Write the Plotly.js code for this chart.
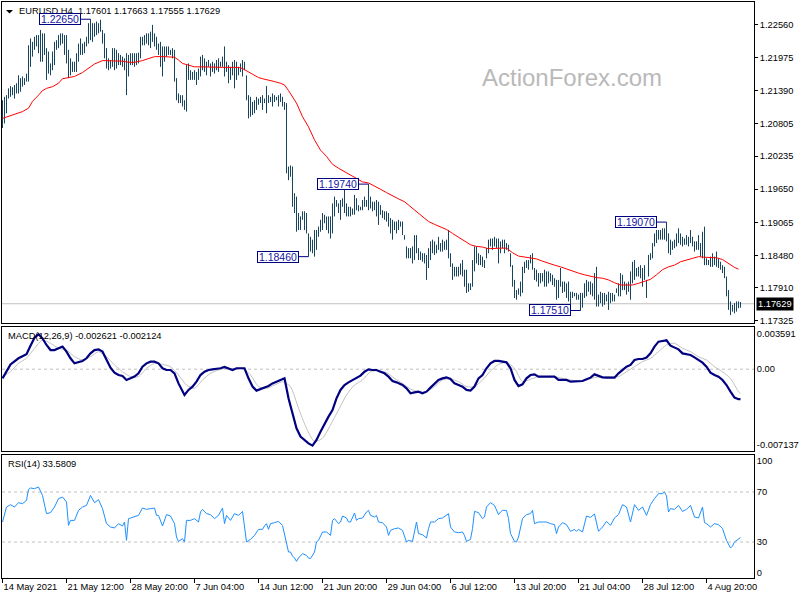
<!DOCTYPE html>
<html><head><meta charset="utf-8">
<script src="https://cdn.plot.ly/plotly-3.0.1.min.js"></script>
<style>html,body{margin:0;padding:0;background:#fff}#c{width:800px;height:600px}</style>
</head><body><div id="c"></div>
<script>
// ---- price bars (H4, bar index 0..369), high / low ----
const hi=[1.2122,1.2128,1.2131,1.2143,1.2147,1.2145,1.2149,1.2152,1.2166,1.2161,
1.2164,1.2161,1.2169,1.2219,1.2231,1.2225,1.2234,1.2237,1.2237,1.2246,
1.2240,1.2240,1.2214,1.2208,1.2187,1.2208,1.2225,1.2228,1.2237,1.2240,
1.2240,1.2237,1.2237,1.2211,1.2196,1.2190,1.2190,1.2205,1.2222,1.2231,
1.2222,1.2225,1.2234,1.2258,1.2265,1.2258,1.2258,1.2261,1.2258,1.2264,
1.2246,1.2240,1.2214,1.2196,1.2193,1.2214,1.2214,1.2211,1.2205,1.2202,
1.2199,1.2196,1.2205,1.2202,1.2205,1.2205,1.2205,1.2205,1.2206,1.2234,
1.2234,1.2237,1.2240,1.2240,1.2243,1.2255,1.2240,1.2234,1.2222,1.2225,
1.2217,1.2217,1.2217,1.2217,1.2211,1.2214,1.2211,1.2161,1.2134,1.2131,
1.2131,1.2122,1.2184,1.2187,1.2175,1.2172,1.2175,1.2172,1.2178,1.2199,
1.2202,1.2196,1.2190,1.2193,1.2187,1.2190,1.2187,1.2193,1.2196,1.2190,
1.2199,1.2217,1.2190,1.2184,1.2181,1.2190,1.2193,1.2190,1.2181,1.2187,
1.2193,1.2190,1.2166,1.2131,1.2128,1.2119,1.2122,1.2128,1.2125,1.2128,
1.2131,1.2125,1.2147,1.2131,1.2128,1.2134,1.2131,1.2128,1.2131,1.2134,
1.2128,1.2119,1.2117,1.2005,1.2007,1.2005,1.1958,1.1952,1.1923,1.1917,
1.1926,1.1926,1.1923,1.1887,1.1881,1.1876,1.1893,1.1893,1.1899,1.1911,
1.1923,1.1920,1.1917,1.1917,1.1917,1.1940,1.1952,1.1946,1.1940,1.1946,
1.1949,1.1970,1.1940,1.1934,1.1934,1.1931,1.1955,1.1949,1.1937,1.1934,
1.1946,1.1952,1.1946,1.1974,1.1952,1.1943,1.1943,1.1946,1.1943,1.1937,
1.1928,1.1926,1.1926,1.1923,1.1914,1.1911,1.1908,1.1908,1.1911,1.1908,
1.1908,1.1884,1.1864,1.1861,1.1861,1.1864,1.1884,1.1884,1.1861,1.1855,
1.1852,1.1852,1.1849,1.1861,1.1873,1.1876,1.1873,1.1867,1.1881,1.1870,
1.1876,1.1873,1.1876,1.1893,1.1852,1.1834,1.1828,1.1828,1.1828,1.1834,
1.1840,1.1823,1.1823,1.1799,1.1799,1.1840,1.1864,1.1864,1.1852,1.1849,
1.1846,1.1840,1.1861,1.1876,1.1878,1.1878,1.1881,1.1878,1.1878,1.1873,
1.1876,1.1876,1.1870,1.1867,1.1852,1.1831,1.1805,1.1787,1.1790,1.1802,
1.1828,1.1837,1.1840,1.1840,1.1849,1.1852,1.1826,1.1823,1.1817,1.1817,
1.1817,1.1823,1.1820,1.1820,1.1817,1.1814,1.1808,1.1805,1.1805,1.1826,
1.1802,1.1802,1.1799,1.1802,1.1784,1.1784,1.1782,1.1782,1.1779,1.1782,
1.1782,1.1799,1.1805,1.1802,1.1802,1.1799,1.1817,1.1828,1.1779,1.1784,
1.1782,1.1782,1.1779,1.1784,1.1782,1.1782,1.1779,1.1790,1.1799,1.1817,
1.1814,1.1802,1.1799,1.1802,1.1820,1.1837,1.1840,1.1826,1.1828,1.1831,
1.1826,1.1831,1.1805,1.1849,1.1852,1.1870,1.1887,1.1893,1.1893,1.1893,
1.1896,1.1896,1.1907,1.1887,1.1876,1.1873,1.1876,1.1887,1.1896,1.1887,
1.1881,1.1878,1.1884,1.1881,1.1893,1.1881,1.1873,1.1873,1.1884,1.1870,
1.1890,1.1899,1.1843,1.1840,1.1846,1.1852,1.1846,1.1855,1.1843,1.1837,
1.1831,1.1828,1.1811,1.1787,1.1767,1.1761,1.1764,1.1767,1.1767,1.1766];
const lo=[1.2073,1.2081,1.2099,1.2125,1.2128,1.2131,1.2125,1.2134,1.2134,1.2137,
1.2146,1.2149,1.2155,1.2155,1.2181,1.2199,1.2211,1.2217,1.2205,1.2190,
1.2190,1.2202,1.2158,1.2169,1.2166,1.2175,1.2184,1.2211,1.2214,1.2219,
1.2222,1.2202,1.2187,1.2161,1.2166,1.2172,1.2172,1.2172,1.2190,1.2202,
1.2202,1.2205,1.2217,1.2222,1.2228,1.2225,1.2234,1.2237,1.2240,1.2243,
1.2222,1.2196,1.2178,1.2175,1.2178,1.2181,1.2175,1.2178,1.2184,1.2184,
1.2181,1.2175,1.2131,1.2164,1.2184,1.2184,1.2181,1.2184,1.2187,1.2196,
1.2219,1.2219,1.2222,1.2219,1.2214,1.2225,1.2217,1.2211,1.2202,1.2181,
1.2164,1.2190,1.2199,1.2202,1.2202,1.2196,1.2155,1.2122,1.2117,1.2117,
1.2111,1.2105,1.2102,1.2158,1.2158,1.2158,1.2158,1.2149,1.2158,1.2164,
1.2175,1.2172,1.2166,1.2181,1.2164,1.2172,1.2169,1.2175,1.2172,1.2181,
1.2181,1.2164,1.2172,1.2152,1.2158,1.2166,1.2143,1.2158,1.2166,1.2172,
1.2164,1.2175,1.2122,1.2090,1.2093,1.2096,1.2099,1.2105,1.2114,1.2117,
1.2105,1.2117,1.2099,1.2117,1.2119,1.2111,1.2119,1.2122,1.2111,1.2119,
1.2111,1.2105,1.1993,1.1981,1.1987,1.1934,1.1923,1.1890,1.1893,1.1893,
1.1911,1.1893,1.1887,1.1846,1.1855,1.1852,1.1846,1.1858,1.1881,1.1890,
1.1893,1.1905,1.1893,1.1887,1.1878,1.1887,1.1917,1.1934,1.1923,1.1911,
1.1934,1.1923,1.1917,1.1917,1.1917,1.1920,1.1920,1.1928,1.1926,1.1928,
1.1928,1.1934,1.1934,1.1928,1.1931,1.1926,1.1928,1.1917,1.1902,1.1920,
1.1914,1.1911,1.1908,1.1899,1.1887,1.1876,1.1893,1.1887,1.1893,1.1899,
1.1884,1.1876,1.1843,1.1843,1.1843,1.1834,1.1840,1.1852,1.1840,1.1840,
1.1837,1.1834,1.1805,1.1826,1.1840,1.1852,1.1849,1.1852,1.1858,1.1855,
1.1855,1.1858,1.1858,1.1843,1.1828,1.1805,1.1811,1.1811,1.1811,1.1814,
1.1811,1.1793,1.1782,1.1784,1.1787,1.1793,1.1820,1.1834,1.1831,1.1831,
1.1828,1.1826,1.1843,1.1852,1.1864,1.1858,1.1864,1.1861,1.1834,1.1852,
1.1861,1.1852,1.1858,1.1855,1.1828,1.1793,1.1773,1.1770,1.1779,1.1776,
1.1782,1.1817,1.1826,1.1823,1.1834,1.1823,1.1805,1.1802,1.1793,1.1799,
1.1802,1.1793,1.1793,1.1799,1.1802,1.1796,1.1793,1.1770,1.1773,1.1793,
1.1782,1.1784,1.1773,1.1767,1.1758,1.1773,1.1776,1.1770,1.1770,1.1751,
1.1756,1.1773,1.1776,1.1784,1.1779,1.1776,1.1770,1.1758,1.1758,1.1764,
1.1758,1.1761,1.1767,1.1752,1.1764,1.1767,1.1767,1.1782,1.1776,1.1776,
1.1787,1.1787,1.1779,1.1784,1.1770,1.1799,1.1805,1.1811,1.1811,1.1808,
1.1793,1.1805,1.1773,1.1811,1.1840,1.1843,1.1864,1.1870,1.1876,1.1876,
1.1876,1.1876,1.1873,1.1852,1.1849,1.1858,1.1861,1.1864,1.1870,1.1867,
1.1864,1.1867,1.1867,1.1864,1.1870,1.1864,1.1855,1.1858,1.1858,1.1846,
1.1843,1.1831,1.1831,1.1831,1.1828,1.1828,1.1831,1.1828,1.1826,1.1823,
1.1817,1.1808,1.1776,1.1752,1.1743,1.1749,1.1746,1.1749,1.1755,1.1756];

// ---- moving average (red) ----
const maBar=[0,5,10,13,15,18,20,22,25,28,30,33,36,40,43,46,50,53,56,60,63,66,70,73,76,80,83,86,88,90,93,96,
100,105,110,115,118,120,122,125,128,130,133,136,139,141,143,145,147,150,153,156,159,162,165,168,171,174,177,180,183,186,189,192,195,198,
201,204,207,210,213,216,219,222,225,228,231,234,237,240,243,246,249,252,255,258,261,264,267,270,273,276,279,282,285,288,291,294,297,
300,303,306,309,312,315,318,321,324,327,330,333,336,339,342,345,348,351,354,357,360,363,366,368];
const maVal=[1.2090,1.2096,1.2102,1.2108,1.2120,1.2131,1.2139,1.2143,1.2146,1.2152,1.2160,1.2162,1.2164,1.2171,1.2178,1.2186,1.2192,1.2192,1.2191,1.2191,1.2189,1.2189,1.2192,1.2196,1.2199,1.2199,1.2199,1.2198,1.2193,1.2187,1.2184,1.2181,
1.2181,1.2180,1.2180,1.2180,1.2180,1.2178,1.2174,1.2167,1.2162,1.2160,1.2158,1.2155,1.2152,1.2149,1.2139,1.2128,1.2117,1.2093,1.2075,1.2052,1.2034,1.2023,1.2009,1.2002,1.1996,1.1990,1.1983,1.1978,1.1976,1.1971,1.1965,1.1959,1.1953,1.1948,
1.1943,1.1934,1.1926,1.1917,1.1908,1.1903,1.1899,1.1894,1.1887,1.1880,1.1873,1.1867,1.1864,1.1863,1.1860,1.1861,1.1861,1.1861,1.1853,1.1847,1.1845,1.1843,1.1842,1.1838,1.1834,1.1831,1.1828,1.1824,1.1821,1.1817,1.1814,1.1811,1.1809,
1.1808,1.1805,1.1800,1.1796,1.1796,1.1796,1.1799,1.1802,1.1806,1.1814,1.1823,1.1828,1.1831,1.1837,1.1840,1.1844,1.1846,1.1845,1.1844,1.1844,1.1841,1.1834,1.1827,1.1824];

// ---- MACD main (navy) ----
const macdBar=[0,4,8,12,14,16,18,20,22,24,26,28,30,32,34,36,38,40,42,44,46,48,50,52,54,56,58,60,62,64,66,68,70,72,74,76,78,80,82,84,86,88,90,91,93,95,97,99,
101,103,105,107,109,111,113,115,117,119,121,123,125,127,129,131,133,135,137,139,141,143,145,147,149,151,153,155,157,159,161,163,165,167,169,171,173,175,177,179,181,183,185,187,189,191,193,195,197,
200,202,204,206,208,210,212,214,216,218,220,222,224,226,228,230,232,234,236,238,240,242,244,246,248,250,252,254,256,258,260,262,264,266,268,270,272,274,276,278,280,282,284,286,288,290,292,294,296,298,
300,302,304,306,308,310,312,314,316,318,320,322,324,326,328,330,332,334,336,338,340,342,344,346,348,350,352,354,356,358,360,362,364,366,368,369];
const macdVal=[-0.00080,0.00042,0.00095,0.00130,0.00205,0.00275,0.00304,0.00269,0.00211,0.00167,0.00167,0.00182,0.00197,0.00153,0.00095,0.00051,0.00060,0.00072,0.00095,0.00138,0.00167,0.00173,0.00153,0.00080,0.00013,-0.00030,-0.00051,-0.00059,-0.00094,-0.00080,-0.00065,-0.00036,0.00022,0.00051,0.00066,0.00066,0.00051,0.00008,-0.00007,-0.00007,-0.00036,-0.00124,-0.00196,-0.00225,-0.00181,-0.00152,-0.00109,-0.00051,
-0.00022,-0.00007,-0.00001,0.00002,0.00008,0.00019,0.00008,-0.00007,0.00008,0.00008,0.00008,-0.00080,-0.00152,-0.00187,-0.00173,-0.00158,-0.00147,-0.00124,-0.00109,-0.00094,-0.00080,-0.00254,-0.00385,-0.00516,-0.00588,-0.00617,-0.00647,-0.00667,-0.00617,-0.00545,-0.00472,-0.00414,-0.00356,-0.00254,-0.00181,-0.00138,-0.00115,-0.00094,-0.00074,-0.00056,-0.00022,-0.00001,-0.00007,-0.00007,-0.00022,-0.00036,-0.00065,-0.00103,-0.00115,
-0.00138,-0.00167,-0.00210,-0.00202,-0.00196,-0.00210,-0.00196,-0.00161,-0.00124,-0.00094,-0.00080,-0.00071,-0.00085,-0.00124,-0.00138,-0.00152,-0.00181,-0.00187,-0.00152,-0.00080,-0.00051,0.00008,0.00051,0.00072,0.00072,0.00066,0.00060,0.00008,-0.00094,-0.00147,-0.00132,-0.00080,-0.00051,-0.00045,-0.00065,-0.00065,-0.00065,-0.00065,-0.00065,-0.00094,-0.00094,-0.00094,-0.00109,-0.00109,-0.00109,-0.00103,-0.00088,-0.00074,-0.00045,-0.00056,
-0.00071,-0.00074,-0.00074,-0.00074,-0.00036,-0.00007,0.00022,0.00037,0.00080,0.00089,0.00089,0.00101,0.00138,0.00197,0.00240,0.00246,0.00252,0.00205,0.00188,0.00173,0.00138,0.00133,0.00124,0.00103,0.00080,0.00057,0.00022,-0.00030,-0.00051,-0.00065,-0.00094,-0.00138,-0.00196,-0.00248,-0.00262,-0.002621];

// ---- MACD signal (silver) ----
const sigBar=[0,4,8,12,16,20,24,28,32,36,40,44,48,52,56,60,64,68,72,76,80,84,88,92,96,100,104,108,112,116,120,124,128,132,136,140,144,148,152,156,160,164,168,172,176,180,184,188,192,196,
200,204,208,212,216,220,224,228,232,236,240,244,248,252,256,260,264,268,272,276,280,284,288,292,296,300,304,308,312,316,320,324,328,332,336,340,344,348,352,356,360,364,368,369];
const sigVal=[-0.00065,-0.00022,0.00051,0.00095,0.00182,0.00255,0.00226,0.00182,0.00167,0.00109,0.00080,0.00109,0.00153,0.00109,0.00037,-0.00022,-0.00065,-0.00065,0.00008,0.00051,0.00042,0.00022,-0.00051,-0.00138,-0.00167,-0.00094,-0.00036,-0.00007,0.00008,0.00002,0.00008,-0.00051,-0.00152,-0.00167,-0.00138,-0.00109,-0.00152,-0.00341,-0.00516,-0.00632,-0.00603,-0.00487,-0.00356,-0.00225,-0.00138,-0.00094,-0.00022,-0.00013,-0.00030,-0.00080,
-0.00124,-0.00173,-0.00196,-0.00196,-0.00152,-0.00094,-0.00085,-0.00109,-0.00152,-0.00152,-0.00094,-0.00016,0.00042,0.00060,0.00008,-0.00109,-0.00088,-0.00065,-0.00065,-0.00065,-0.00080,-0.00094,-0.00103,-0.00094,-0.00074,-0.00065,-0.00065,-0.00065,-0.00022,0.00022,0.00066,0.00095,0.00153,0.00211,0.00226,0.00182,0.00153,0.00109,0.00080,0.00022,-0.00022,-0.00080,-0.00196,-0.002124];

// ---- RSI(14) (dodger blue) ----
const rsiBar=[0,2,4,6,8,10,12,13,14,16,18,20,22,24,26,28,30,32,33,34,36,38,40,42,44,46,48,50,52,54,56,58,60,61,62,63,64,66,68,70,72,74,76,77,78,80,82,84,86,87,88,90,91,92,94,96,98,99,
100,102,104,106,108,110,111,112,114,116,118,120,122,124,126,128,130,131,132,133,134,136,138,140,142,143,144,145,146,147,148,150,152,153,154,156,157,158,160,162,163,164,165,166,168,169,170,172,173,174,176,177,178,180,182,183,184,186,187,188,190,192,193,194,196,198,
200,202,203,205,207,208,210,212,213,214,216,218,220,222,223,224,226,228,230,231,232,234,235,236,238,240,241,242,244,246,248,249,250,252,253,254,256,257,258,260,262,264,265,266,268,270,272,274,276,277,278,280,282,284,286,287,288,290,292,294,296,298,
300,302,304,306,308,310,312,314,316,318,320,322,324,326,328,330,331,332,333,334,336,338,340,342,344,346,348,350,351,352,354,356,358,360,362,364,365,366,368,369];
const rsiVal=[46.0,58.0,59.9,58.0,61.5,60.7,63.3,72.1,73.2,72.7,74.0,67.3,52.7,53.5,58.0,64.7,66.0,62.0,43.3,47.3,47.3,55.3,58.0,59.3,67.3,61.5,63.9,56.7,44.7,42.0,41.2,44.7,42.8,46.0,31.3,48.7,49.2,50.0,51.3,57.2,56.1,56.7,57.2,51.3,51.3,42.8,51.9,50.8,44.7,34.0,30.5,32.7,30.0,47.3,47.3,48.7,46.0,54.0,
56.1,52.7,51.9,48.7,51.3,57.2,44.7,51.3,47.3,52.7,51.3,54.5,30.0,32.1,35.3,40.1,40.1,42.8,44.7,40.1,44.7,45.5,46.5,43.3,29.5,22.0,22.0,18.8,17.2,14.5,17.2,20.7,19.3,17.2,16.7,22.0,30.0,31.3,38.0,38.0,36.7,35.3,47.3,48.7,44.7,46.0,50.8,49.2,46.0,46.0,53.2,47.3,48.7,49.2,54.0,55.3,51.3,50.0,51.3,46.0,45.5,42.0,35.3,39.3,40.7,41.2,
39.3,30.0,31.3,30.5,46.0,36.7,35.9,33.2,40.7,46.0,46.0,48.7,49.2,51.3,52.7,42.0,38.0,37.5,38.0,35.3,30.5,32.1,40.7,54.5,53.5,48.7,50.0,58.0,61.5,59.3,51.9,54.0,55.3,55.3,48.7,36.7,30.5,30.0,34.0,48.7,51.9,52.7,55.3,44.7,46.0,46.0,46.0,44.7,43.9,36.7,42.0,45.5,43.9,38.5,40.1,38.5,40.1,38.0,50.8,49.7,52.4,38.5,
42.0,46.5,43.3,49.2,51.9,59.9,58.0,46.0,59.9,55.3,58.0,51.3,59.9,64.7,68.7,68.7,70.0,66.8,54.0,56.7,56.1,59.3,54.5,56.1,59.3,50.0,49.2,58.0,45.5,44.7,42.0,44.7,43.9,40.7,31.3,25.2,26.8,30.0,32.1,33.58];

// ---- labels ----
const xTickBars=[0,32,64,96,128,160,192,224,256,288,320,352];
const xTickText=['14 May 2021','21 May 12:00','28 May 20:00','7 Jun 04:00','14 Jun 12:00','21 Jun 20:00','29 Jun 04:00','6 Jul 12:00','13 Jul 20:00','21 Jul 04:00','28 Jul 12:00','4 Aug 20:00'];
const priceTicks=[1.22560,1.21975,1.21390,1.20805,1.20235,1.19650,1.19065,1.18480,1.17910,1.17325];
const markBar=[44,183,153,289,332];
const markPrice=[1.22650,1.19740,1.18460,1.17510,1.19070];
const lastPrice=1.17629;
const header='EURUSD,H4  1.17601 1.17663 1.17555 1.17629';
const macdHeader='MACD(12,26,9) -0.002621 -0.002124';
const rsiHeader='RSI(14) 33.5809';

// build bar segments
const bx=[],by=[];
for(let i=0;i<hi.length;i++){bx.push(i,i,null);by.push(lo[i],hi[i],null);}

const F='"Liberation Sans", Arial, sans-serif';
const fs=9.3;
const traces=[
 {type:'scatter',mode:'lines',x:bx,y:by,xaxis:'x',yaxis:'y',line:{color:'#17455f',width:1},hoverinfo:'skip',connectgaps:false},
 {type:'scatter',mode:'lines',x:maBar,y:maVal,xaxis:'x',yaxis:'y',line:{color:'#ff0000',width:1}},
 {type:'scatter',mode:'lines',x:sigBar,y:sigVal,xaxis:'x2',yaxis:'y2',line:{color:'#c0c0c0',width:1,shape:'spline',smoothing:0.6}},
 {type:'scatter',mode:'lines',x:macdBar,y:macdVal,xaxis:'x2',yaxis:'y2',line:{color:'#000080',width:2.2}},
 {type:'scatter',mode:'lines',x:rsiBar,y:rsiVal,xaxis:'x3',yaxis:'y3',line:{color:'#1e90ff',width:1}}
];

const xr=[-0.25,375.75];
const axX=(extra)=>Object.assign({range:xr,showgrid:false,zeroline:false,showline:true,mirror:true,linecolor:'#000',linewidth:1,fixedrange:true},extra);
const axY=(extra)=>Object.assign({side:'right',showgrid:false,zeroline:false,showline:true,mirror:true,linecolor:'#000',linewidth:1,tickfont:{family:F,size:fs,color:'#000'},fixedrange:true},extra);

const annotations=[
 {xref:'paper',yref:'paper',x:0,xshift:15,y:1,yshift:-2,xanchor:'left',yanchor:'top',text:header,showarrow:false,font:{family:F,size:fs,color:'#000'}},
 {xref:'paper',yref:'y2 domain',x:0,xshift:4,y:1,yshift:-2,xanchor:'left',yanchor:'top',text:macdHeader,showarrow:false,font:{family:F,size:fs,color:'#000'}},
 {xref:'paper',yref:'y3 domain',x:0,xshift:4,y:1,yshift:-2,xanchor:'left',yanchor:'top',text:rsiHeader,showarrow:false,font:{family:F,size:fs,color:'#000'}},
 {xref:'paper',yref:'y',x:0.758,y:1.2163,xanchor:'center',yanchor:'middle',text:'ActionForex.com',showarrow:false,font:{family:F,size:24,color:'#b9b9b9'}},
 {xref:'paper',yref:'y',x:1,xshift:2,y:lastPrice,xanchor:'left',yanchor:'middle',text:lastPrice.toFixed(5),showarrow:false,bgcolor:'#000',borderpad:1,font:{family:F,size:fs,color:'#fff'}}
];
const shapes=[
 {type:'line',xref:'x',yref:'y',x0:xr[0],x1:xr[1],y0:lastPrice,y1:lastPrice,line:{color:'#c0c0c0',width:1},layer:'below'},
 {type:'line',xref:'x2',yref:'y2',x0:xr[0],x1:xr[1],y0:0,y1:0,line:{color:'#c0c0c0',width:1,dash:'3px,3px'},layer:'below'},
 {type:'line',xref:'x3',yref:'y3',x0:xr[0],x1:xr[1],y0:70,y1:70,line:{color:'#c0c0c0',width:1,dash:'3px,3px'},layer:'below'},
 {type:'line',xref:'x3',yref:'y3',x0:xr[0],x1:xr[1],y0:30,y1:30,line:{color:'#c0c0c0',width:1,dash:'3px,3px'},layer:'below'},
 {type:'path',xref:'paper',yref:'paper',path:'M 0.0053 0.9861 L 0.0146 0.9861 L 0.0100 0.9800 Z',fillcolor:'#000',line:{width:0}}
];
for(let k=0;k<markBar.length;k++){
  const bxp=markBar[k]-4.75;
  annotations.push({xref:'x',yref:'y',x:bxp,y:markPrice[k],xanchor:'right',yanchor:'middle',text:markPrice[k].toFixed(5),showarrow:false,
    bgcolor:'#ffffff',bordercolor:'#000080',borderwidth:1,borderpad:0,width:40,height:10,font:{family:F,size:10.5,color:'#1515a8'}});
  shapes.push({type:'line',xref:'x',yref:'y',x0:bxp,x1:markBar[k],y0:markPrice[k],y1:markPrice[k],line:{color:'#000080',width:1}});
}

const layout={
 width:800,height:600,margin:{l:2,r:46,t:2,b:22},paper_bgcolor:'#fff',plot_bgcolor:'#fff',showlegend:false,hovermode:false,
 xaxis:axX({anchor:'y',showticklabels:false,ticks:''}),
 xaxis2:axX({anchor:'y2',matches:'x',showticklabels:false,ticks:''}),
 xaxis3:axX({anchor:'y3',matches:'x',tickmode:'array',tickvals:xTickBars,ticktext:xTickText,ticks:'outside',ticklen:4,tickcolor:'#000',
   tickangle:0,ticklabelposition:'outside right',tickfont:{family:F,size:fs,color:'#000'}}),
 yaxis:axY({domain:[0.4422,1],anchor:'x',range:[1.17284,1.22954],tickmode:'array',tickvals:priceTicks,ticktext:priceTicks.map(v=>v.toFixed(5)),ticks:'outside',ticklen:3,tickcolor:'#000'}),
 yaxis2:axY({domain:[0.2205,0.4352],anchor:'x2',range:[-0.007137,0.003652],tickmode:'array',tickvals:[0.00307,0,-0.00661],ticktext:['0.003591','0.00','-0.007137'],ticks:''}),
 yaxis3:axY({domain:[0,0.2135],anchor:'x3',range:[1.2,99.6],tickmode:'array',tickvals:[94.8,70,30,5.2],ticktext:['100','70','30','0'],ticks:''}),
 annotations:annotations,shapes:shapes
};
Plotly.newPlot('c',traces,layout,{staticPlot:true,displayModeBar:false});
</script></body></html>
